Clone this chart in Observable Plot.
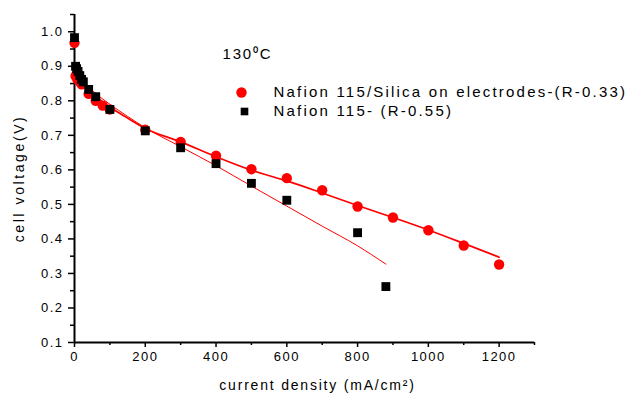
<!DOCTYPE html>
<html><head><meta charset="utf-8">
<script src="https://cdn.jsdelivr.net/npm/d3@7"></script>
<script src="https://cdn.jsdelivr.net/npm/@observablehq/plot@0.6"></script>
<style>
body{margin:0;background:#fff}
.ttl, .ttl text{letter-spacing:1.8px}
.leg, .leg text{letter-spacing:2.2px}
.xlab, .xlab text{letter-spacing:1.8px}
.ylab, .ylab text{letter-spacing:2.6px; text-anchor:middle}
</style>
</head><body><div id="chart"></div>
<script>
// Nafion 115/Silica on electrodes (red circles)
const silicaCurrent = [0, 3, 8, 15, 20, 40, 60, 80, 100, 200, 300, 400, 500, 600, 700, 800, 900, 1000, 1100, 1200];
const silicaVoltage = [0.968, 0.872, 0.862, 0.855, 0.848, 0.82, 0.8, 0.786, 0.775, 0.716, 0.681, 0.641, 0.602, 0.576, 0.541, 0.494, 0.462, 0.425, 0.381, 0.326];
// Nafion 115 (black squares)
const nafionCurrent = [0, 3, 6, 10, 15, 20, 25, 40, 60, 100, 200, 300, 400, 500, 600, 800, 880];
const nafionVoltage = [0.983, 0.9, 0.893, 0.885, 0.873, 0.862, 0.855, 0.833, 0.812, 0.775, 0.713, 0.664, 0.618, 0.561, 0.512, 0.418, 0.262];
// fit curves
const silicaFitCurrent = [12, 25, 50, 100, 150, 200, 300, 400, 500, 600, 700, 800, 900, 1000, 1100, 1200];
const silicaFitVoltage = [0.87, 0.85, 0.822, 0.782, 0.75, 0.72, 0.681, 0.638, 0.599, 0.568, 0.533, 0.497, 0.462, 0.426, 0.387, 0.347];
const nafionFitCurrent = [12, 25, 50, 100, 150, 200, 300, 400, 500, 600, 700, 800, 880];
const nafionFitVoltage = [0.87, 0.855, 0.83, 0.79, 0.755, 0.722, 0.667, 0.612, 0.553, 0.495, 0.437, 0.38, 0.327];

const seriesNames = ["Nafion 115/Silica on electrodes-(R-0.33)", "Nafion 115- (R-0.55)"];
const titleText = "130\u2070C";
const xLabel = "current density (mA/cm\u00b2)";
const yLabel = "cell voltage(V)";
const xTicks = [0, 200, 400, 600, 800, 1000, 1200];
const xMinor = [100, 300, 500, 700, 900, 1100, 1300];
const yTicks = [0.1, 0.2, 0.3, 0.4, 0.5, 0.6, 0.7, 0.8, 0.9, 1.0];
const yMinor = [0.15, 0.25, 0.35, 0.45, 0.55, 0.65, 0.75, 0.85, 0.95, 1.05];

const silica = silicaCurrent.map((c, i) => ({c, v: silicaVoltage[i]}));
const nafion = nafionCurrent.map((c, i) => ({c, v: nafionVoltage[i]}));
const silicaFit = silicaFitCurrent.map((c, i) => ({c, v: silicaFitVoltage[i]}));
const nafionFit = nafionFitCurrent.map((c, i) => ({c, v: nafionFitVoltage[i]}));

const chart = Plot.plot({
  width: 628, height: 393,
  marginLeft: 74, marginRight: 94, marginTop: 14, marginBottom: 51,
  style: {fontFamily: "'Liberation Sans', Arial, sans-serif", fontSize: "13px", letterSpacing: "1.5px", color: "#000", background: "#fff"},
  x: {domain: [0, 1300]},
  y: {domain: [0.1, 1.05]},
  marks: [
    Plot.axisX({ticks: xTicks, tickSize: 5, tickPadding: 4, tickFormat: d => String(d), label: null, strokeWidth: 1.5}),
    Plot.axisX({ticks: xMinor, tickSize: 3, text: null, label: null, strokeWidth: 1.5}),
    Plot.axisY({ticks: yTicks, tickSize: 6, tickPadding: 5, tickFormat: d3.format(".1f"), label: null, strokeWidth: 1.5}),
    Plot.axisY({ticks: yMinor, tickSize: 4, text: null, label: null, strokeWidth: 1.5}),
    Plot.ruleX([0], {stroke: "#000", strokeWidth: 2}),
    Plot.ruleY([0.1], {stroke: "#000", strokeWidth: 2}),
    Plot.line(nafionFit, {x: "c", y: "v", stroke: "#ff0000", strokeWidth: 1, curve: "monotone-x"}),
    Plot.line(silicaFit, {x: "c", y: "v", stroke: "#ff0000", strokeWidth: 1.7, curve: "monotone-x"}),
    Plot.dot(silica, {x: "c", y: "v", fill: "#ff0000", r: 5.2, symbol: "circle"}),
    Plot.dot(nafion, {x: "c", y: "v", fill: "#000", r: 5, symbol: "square"}),
    Plot.text([titleText], {frameAnchor: "top-left", dx: 148, dy: 40, textAnchor: "start", lineAnchor: "middle", fontSize: 15, fill: "#000", className: "ttl"}),
    Plot.dot([seriesNames[0]], {frameAnchor: "top-left", dx: 167, dy: 78, fill: "#ff0000", r: 5.2, symbol: "circle"}),
    Plot.dot([seriesNames[1]], {frameAnchor: "top-left", dx: 170, dy: 97, fill: "#000", r: 4.3, symbol: "square"}),
    Plot.text([seriesNames[0]], {frameAnchor: "top-left", dx: 199, dy: 78, textAnchor: "start", lineAnchor: "middle", fontSize: 15, fill: "#000", className: "leg"}),
    Plot.text([seriesNames[1]], {frameAnchor: "top-left", dx: 199, dy: 97, textAnchor: "start", lineAnchor: "middle", fontSize: 15, fill: "#000", className: "leg"}),
    Plot.text([xLabel], {frameAnchor: "bottom", dx: 13, dy: 43, textAnchor: "middle", lineAnchor: "middle", fontSize: 14, fill: "#000", className: "xlab"}),
    Plot.text([yLabel], {frameAnchor: "left", dx: -55, rotate: -90, textAnchor: "middle", lineAnchor: "middle", fontSize: 14, fill: "#000", className: "ylab"})
  ]
});
document.getElementById("chart").appendChild(chart);
</script>
</body></html>
